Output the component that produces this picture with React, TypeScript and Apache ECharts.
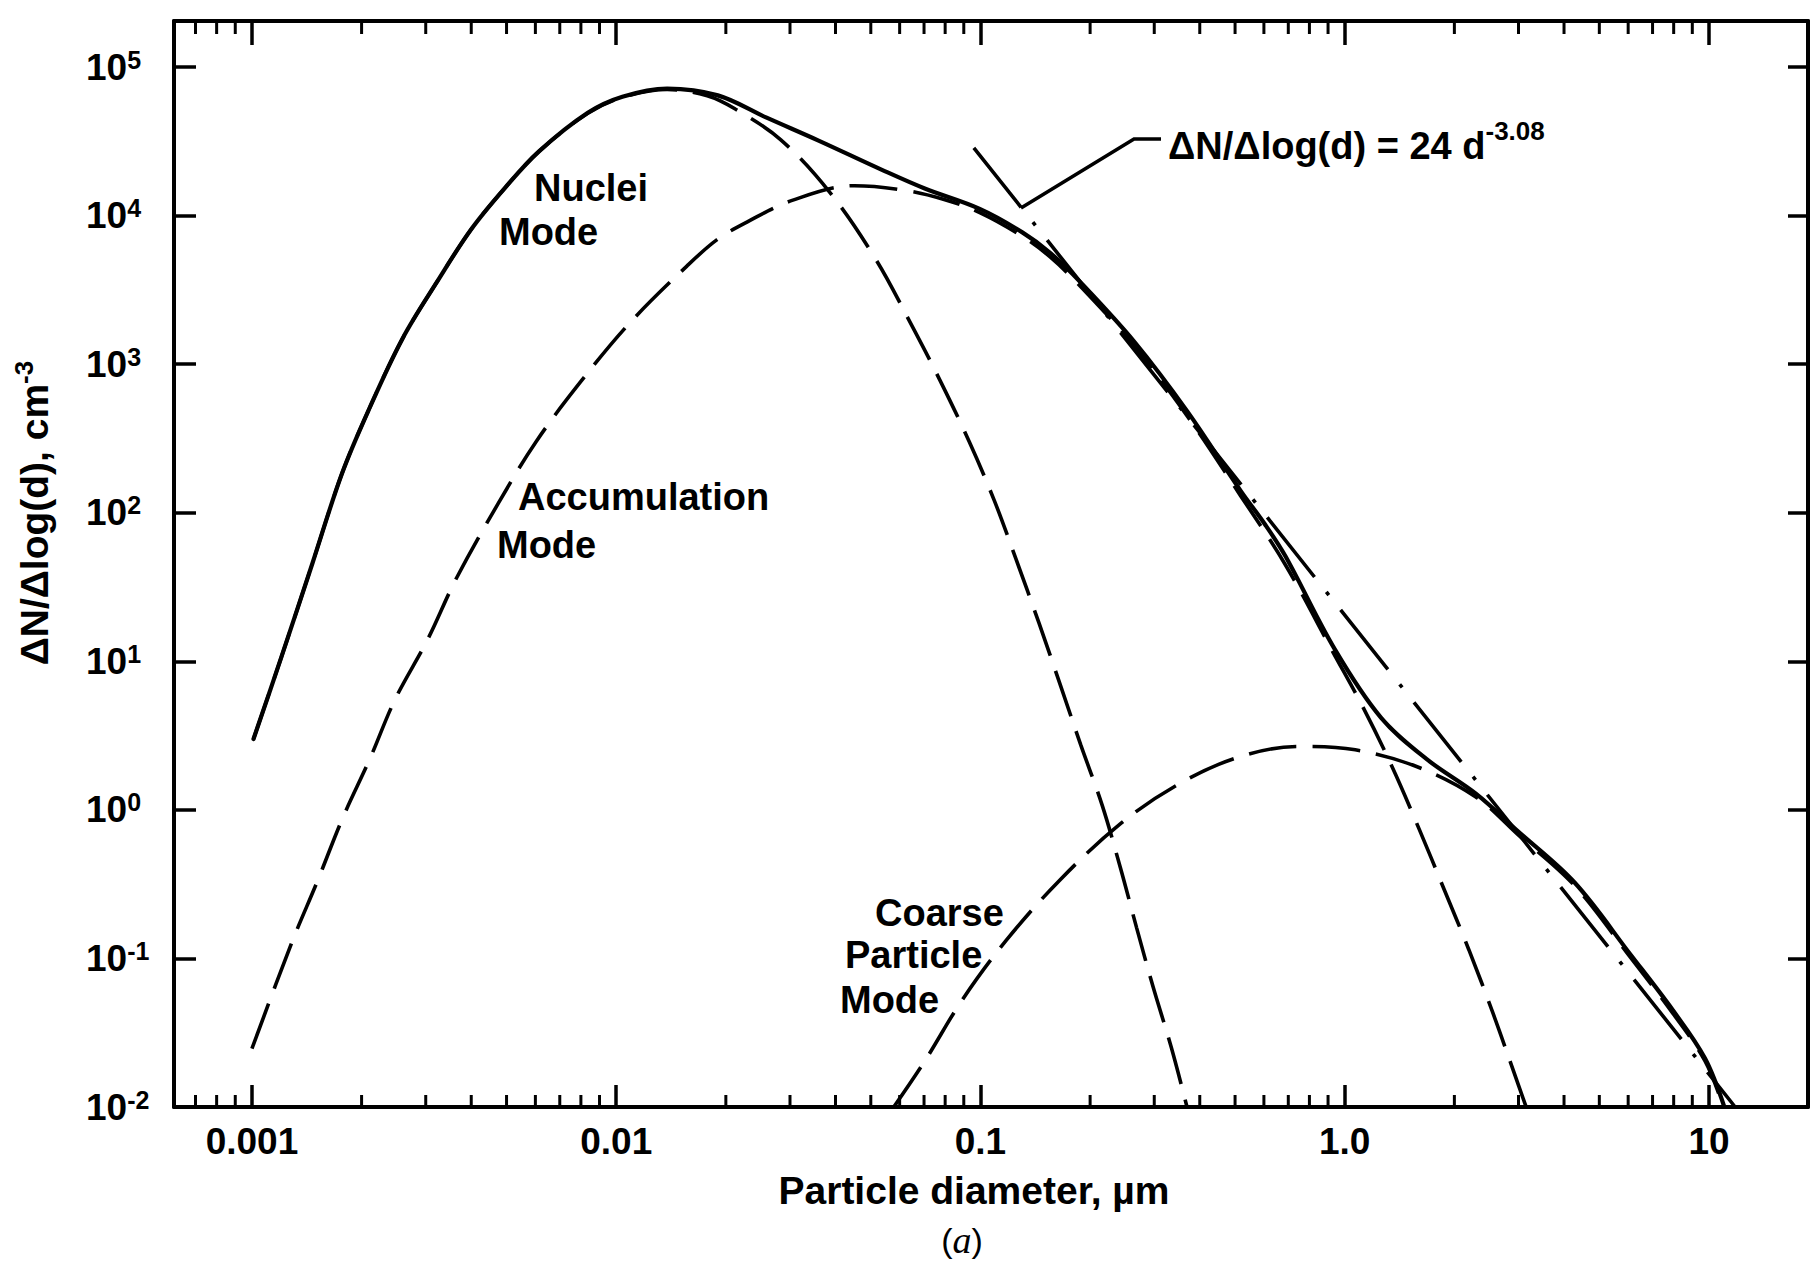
import React, { useEffect, useRef } from 'react';
import * as echarts from 'echarts';

// ---- Data: particle diameter (µm) and ΔN/Δlog(d) (cm^-3) ----
const TOTAL_D = [0.00101, 0.001205, 0.001466, 0.001766, 0.002099, 0.002588, 0.003214, 0.004, 0.004966, 0.006138, 0.008356, 0.0104, 0.0138, 0.01901, 0.02588, 0.03606, 0.05383, 0.07031, 0.09954, 0.1303, 0.1556, 0.1897, 0.2649, 0.3698, 0.5176, 0.6039, 0.6871, 0.9397, 1.259, 1.679, 2.291, 2.985, 4.276, 6.095, 7.962, 9.75, 11.02];
const TOTAL_N = [3.0, 10.7, 45.7, 183, 501, 1479, 3548, 8091, 15490, 27040, 49200, 63100, 71600, 64420, 45600, 31840, 20230, 15210, 11090, 7709, 5598, 3483, 1409, 480.8, 140.9, 83.6, 51.05, 12.02, 4.159, 2.193, 1.285, 0.7194, 0.3243, 0.1059, 0.04477, 0.02128, 0.01];

const NUCLEI_D = [0.00101, 0.001205, 0.001466, 0.001766, 0.002099, 0.002588, 0.003214, 0.004, 0.004966, 0.006138, 0.008356, 0.0104, 0.0138, 0.01778, 0.02123, 0.02831, 0.03873, 0.05176, 0.06412, 0.07762, 0.09311, 0.1091, 0.125, 0.1449, 0.166, 0.1884, 0.2158, 0.2421, 0.2685, 0.2979, 0.3342, 0.369];
const NUCLEI_N = [3.0, 10.7, 45.7, 183, 501, 1479, 3548, 8091, 15490, 27040, 48800, 62500, 70500, 64000, 52120, 32360, 14160, 5012, 1910, 769.1, 301.3, 121.1, 49.2, 17.99, 6.839, 2.748, 1.076, 0.4093, 0.16, 0.06412, 0.02512, 0.01];

const ACCUM_D = [0.001, 0.001288, 0.001514, 0.001774, 0.002109, 0.002472, 0.003034, 0.003639, 0.004753, 0.006026, 0.00798, 0.01094, 0.01563, 0.01892, 0.02291, 0.03041, 0.04508, 0.06209, 0.07907, 0.09954, 0.1303, 0.1556, 0.1897, 0.2649, 0.3698, 0.5176, 0.6871, 0.929, 1.125, 1.349, 1.6, 1.875, 2.193, 2.547, 2.917, 3.148];
const ACCUM_N = [0.02472, 0.1288, 0.3327, 0.879, 2.213, 5.546, 13.96, 36.06, 116.4, 300.6, 758.6, 1914, 4571, 6887, 9078, 12650, 15890, 14790, 12880, 10470, 7244, 5248, 3273, 1318, 446.7, 130.3, 44.67, 11.5, 4.853, 1.95, 0.7447, 0.2911, 0.114, 0.04345, 0.01702, 0.01];

const COARSE_D = [0.05781, 0.07031, 0.08913, 0.1178, 0.1648, 0.2415, 0.3459, 0.507, 0.7447, 1.069, 1.574, 2.291, 2.985, 4.276, 6.095, 7.962, 9.75, 10.96];
const COARSE_N = [0.01, 0.02037, 0.0526, 0.1327, 0.335, 0.8017, 1.466, 2.249, 2.673, 2.535, 1.959, 1.222, 0.684, 0.309, 0.1012, 0.04266, 0.02042, 0.01];

// power-law fit ΔN/Δlog(d) = 24 d^-3.08, end points
const POWER_D = [0.0959, 11.8];
const POWER_N = [28600, 0.01];

// ---- Axes ----
const X_MIN = 0.000611;
const X_MAX = 18.7;
const Y_MIN = 0.01;
const Y_MAX = 204000;
const X_TICK_VALUES = [0.001, 0.01, 0.1, 1, 10];
const X_TICK_TEXT = ['0.001', '0.01', '0.1', '1.0', '10'];
const Y_TICK_EXPONENTS = [-2, -1, 0, 1, 2, 3, 4, 5];
const MINOR_MULTIPLIERS = [2, 3, 4, 5, 6, 7, 8, 9];
const MINOR_DECADES = [0.0001, 0.001, 0.01, 0.1, 1, 10];

const FONT = '"Liberation Sans", Arial, Helvetica, sans-serif';
const INK = '#000';

const pairs = (d: number[], n: number[]) => d.map((x, i) => [x, n[i]]);

const fmtX = (v: number) => {
  const lv = Math.log10(v);
  for (let i = 0; i < X_TICK_VALUES.length; i++) {
    if (Math.abs(lv - Math.log10(X_TICK_VALUES[i])) < 1e-6) return X_TICK_TEXT[i];
  }
  return '';
};

const fmtY = (v: number) => {
  const e = Math.log10(v);
  const r = Math.round(e);
  if (Math.abs(e - r) > 1e-6 || Y_TICK_EXPONENTS.indexOf(r) < 0) return '';
  return `{b|10}{s|${r}}`;
};

function buildOption() {
  const minorTicks: number[] = [];
  MINOR_DECADES.forEach((dec) =>
    MINOR_MULTIPLIERS.forEach((m) => {
      const v = dec * m;
      if (v > X_MIN && v < X_MAX) minorTicks.push(v);
    })
  );

  const axisLine = { show: true, onZero: false, lineStyle: { color: INK, width: 4 } };
  const dashed = [48, 16];
  const dashDot = [76, 19, 4, 19];
  const SMOOTH = 0.35;
  const text = (s: string, x: number, y: number, extra: any = {}) => ({
    type: 'text',
    x,
    y,
    z: 20,
    style: {
      text: s,
      fill: INK,
      fontSize: 38,
      fontWeight: 'bold',
      fontFamily: FONT,
      align: 'left',
      verticalAlign: 'middle',
      ...extra,
    },
  });

  return {
    animation: false,
    backgroundColor: '#fff',
    grid: { left: 174, right: 8, top: 21, bottom: 154, containLabel: false, outerBoundsMode: 'none' },
    xAxis: [
      {
        type: 'log',
        logBase: 10,
        min: X_MIN,
        max: X_MAX,
        position: 'bottom',
        axisLine,
        axisTick: { show: true, inside: true, length: 22, lineStyle: { color: INK, width: 3.5 } },
        axisLabel: {
          show: true,
          margin: 16,
          formatter: fmtX,
          color: INK,
          fontSize: 37,
          lineHeight: 37,
          fontWeight: 'bold',
          fontFamily: FONT,
        },
        splitLine: { show: false },
        name: 'Particle diameter, µm',
        nameLocation: 'middle',
        nameGap: 64,
        nameMoveOverlap: false,
        nameTextStyle: {
          color: INK,
          fontSize: 39,
          lineHeight: 39,
          fontWeight: 'bold',
          fontFamily: FONT,
          padding: [0, 34, 0, 0],
        },
      },
      {
        type: 'log',
        logBase: 10,
        min: X_MIN,
        max: X_MAX,
        position: 'top',
        axisLine,
        axisTick: { show: true, inside: true, length: 24, lineStyle: { color: INK, width: 3.5 } },
        axisLabel: { show: false },
        splitLine: { show: false },
      },
    ],
    yAxis: [
      {
        type: 'log',
        logBase: 10,
        min: Y_MIN,
        max: Y_MAX,
        position: 'left',
        axisLine,
        axisTick: { show: true, inside: true, length: 22, lineStyle: { color: INK, width: 3.5 } },
        axisLabel: {
          show: true,
          align: 'left',
          margin: 88,
          formatter: fmtY,
          rich: {
            b: { fontSize: 37, lineHeight: 40, fontWeight: 'bold', fontFamily: FONT, color: INK },
            s: { fontSize: 25, lineHeight: 25, fontWeight: 'bold', fontFamily: FONT, color: INK, verticalAlign: 'top' },
          },
        },
        splitLine: { show: false },
        name: '{b|ΔN/Δlog(d), cm}{s|-3}',
        nameLocation: 'middle',
        nameRotate: 90,
        nameGap: 117,
        nameMoveOverlap: false,
        nameTextStyle: {
          padding: [0, 0, 0, 102],
          rich: {
            b: { fontSize: 39, lineHeight: 46, fontWeight: 'bold', fontFamily: FONT, color: INK },
            s: { fontSize: 26, lineHeight: 26, fontWeight: 'bold', fontFamily: FONT, color: INK, verticalAlign: 'top' },
          },
        },
      },
      {
        type: 'log',
        logBase: 10,
        min: Y_MIN,
        max: Y_MAX,
        position: 'right',
        axisLine,
        axisTick: { show: true, inside: true, length: 20, lineStyle: { color: INK, width: 3.5 } },
        axisLabel: { show: false },
        splitLine: { show: false },
      },
    ],
    series: [
      {
        type: 'custom',
        name: 'minor ticks',
        xAxisIndex: 0,
        yAxisIndex: 0,
        silent: true,
        clip: false,
        data: minorTicks.map((v) => [v, Y_MIN]),
        renderItem: (_params: any, api: any) => {
          const v = api.value(0);
          const b = api.coord([v, Y_MIN]);
          const t = api.coord([v, Y_MAX]);
          return {
            type: 'group',
            children: [
              { type: 'line', shape: { x1: b[0], y1: b[1], x2: b[0], y2: b[1] - 12 }, style: { stroke: INK, lineWidth: 3 } },
              { type: 'line', shape: { x1: t[0], y1: t[1], x2: t[0], y2: t[1] + 13 }, style: { stroke: INK, lineWidth: 3 } },
            ],
          };
        },
      },
      {
        type: 'line',
        name: 'Nuclei mode',
        data: pairs(NUCLEI_D, NUCLEI_N),
        symbol: 'none',
        smooth: SMOOTH,
        lineStyle: { color: INK, width: 3.6, type: dashed },
        z: 3,
      },
      {
        type: 'line',
        name: 'Accumulation mode',
        data: pairs(ACCUM_D, ACCUM_N),
        symbol: 'none',
        smooth: SMOOTH,
        lineStyle: { color: INK, width: 3.6, type: dashed },
        z: 3,
      },
      {
        type: 'line',
        name: 'Coarse particle mode',
        data: pairs(COARSE_D, COARSE_N),
        symbol: 'none',
        smooth: SMOOTH,
        lineStyle: { color: INK, width: 3.6, type: dashed },
        z: 3,
      },
      {
        type: 'line',
        name: 'Power law',
        data: pairs(POWER_D, POWER_N),
        symbol: 'none',
        lineStyle: { color: INK, width: 3.6, type: dashDot },
        z: 4,
      },
      {
        type: 'line',
        name: 'Total',
        data: pairs(TOTAL_D, TOTAL_N),
        symbol: 'none',
        smooth: SMOOTH,
        lineStyle: { color: INK, width: 4.2, type: 'solid', cap: 'round', join: 'round' },
        z: 5,
      },
    ],
    graphic: [
      text('Nuclei', 534, 188),
      text('Mode', 499, 232),
      text('Accumulation', 518, 497),
      text('Mode', 497, 545),
      text('Coarse', 875, 913),
      text('Particle', 845, 955),
      text('Mode', 840, 1000),
      {
        type: 'text',
        x: 1168,
        y: 146,
        z: 20,
        style: {
          text: '{b|ΔN/Δlog(d) = 24 d}{s|-3.08}',
          align: 'left',
          verticalAlign: 'middle',
          rich: {
            b: { fill: INK, fontSize: 38, lineHeight: 56, fontWeight: 'bold', fontFamily: FONT },
            s: { fill: INK, fontSize: 26, lineHeight: 26, fontWeight: 'bold', fontFamily: FONT, verticalAlign: 'top' },
          },
        },
      },
      {
        type: 'polyline',
        z: 20,
        shape: { points: [[1161, 139], [1134, 139], [1021, 208]] },
        style: { stroke: INK, lineWidth: 3.6, fill: null },
      },
      {
        type: 'text',
        x: 962,
        y: 1240,
        z: 20,
        style: {
          text: '({a|a})',
          fill: INK,
          fontSize: 34,
          fontFamily: FONT,
          align: 'center',
          verticalAlign: 'middle',
          rich: {
            a: { fill: INK, fontSize: 38, fontStyle: 'italic', fontFamily: '"Liberation Serif", "Times New Roman", serif' },
          },
        },
      },
    ],
  };
}

export default function App() {
  const ref = useRef<HTMLDivElement>(null);
  useEffect(() => {
    document.body.style.margin = '0';
    document.body.style.overflow = 'hidden';
    const chart = echarts.init(ref.current as HTMLDivElement, null, { renderer: 'svg' });
    chart.setOption(buildOption() as any);
    return () => chart.dispose();
  }, []);
  return <div ref={ref} style={{ width: 1816, height: 1261, background: '#fff' }} />;
}
